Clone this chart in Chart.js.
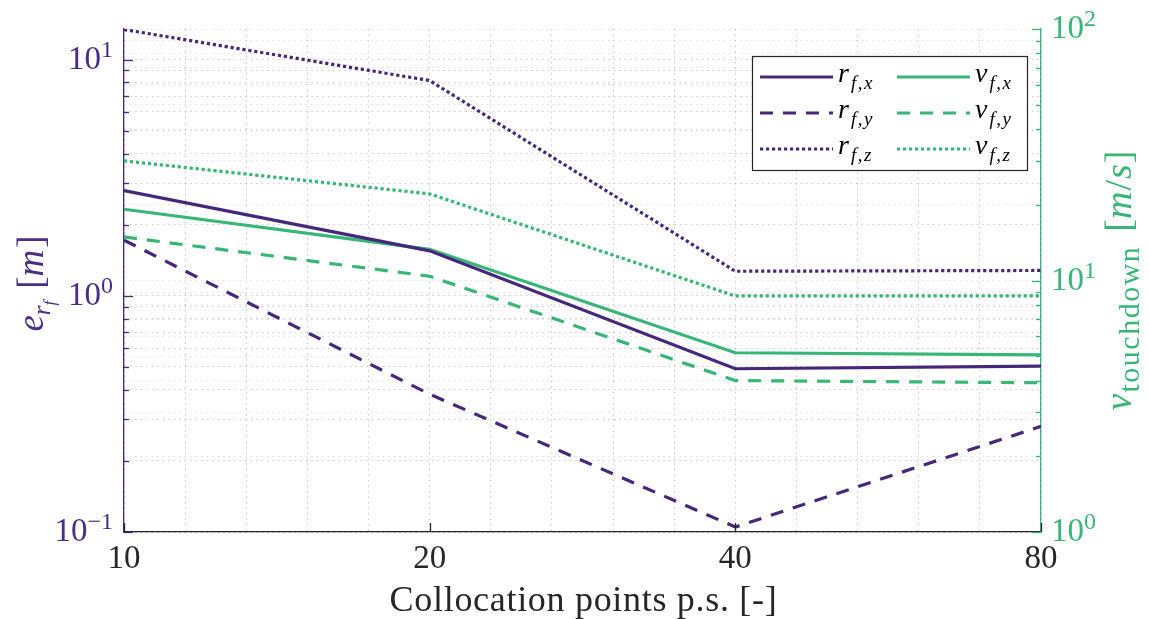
<!DOCTYPE html>
<html>
<head>
<meta charset="utf-8">
<script src="https://cdn.jsdelivr.net/npm/chart.js@4.4.1/dist/chart.umd.min.js"></script>
<style>
  html, body { margin: 0; padding: 0; background: #fff; }
  #wrap { width: 1149px; height: 619px; position: relative; }
</style>
</head>
<body>
<div id="wrap"><canvas id="chart"></canvas></div>
<script>
// collocation points per segment (x axis, log2 spaced)
const xPoints = [10, 20, 40, 80];
const xTickLabels = ['10', '20', '40', '80'];

// final position errors [m] (left axis)
const rFx = [2.79, 1.55, 0.491, 0.504];
const rFy = [1.72, 0.383, 0.105, 0.280];
const rFz = [13.4, 8.15, 1.27, 1.28];

// touchdown velocity [m/s] (right axis)
const vFx = [19.2, 13.3, 5.16, 5.06];
const vFy = [14.9, 10.4, 4.0, 3.92];
const vFz = [29.9, 22.1, 8.68, 8.68];

const leftMajor = [0.1, 1, 10];
const leftExp = ['\u22121', '0', '1'];
const rightMajor = [1, 10, 100];
const rightExp = ['0', '1', '2'];

const PURPLE = '#45287a';
const PURPLE_TXT = '#4a2d84';
const GREEN = '#37b677';
const INK = '#262626';
const GRID = 'rgba(150,150,175,0.5)';
const SERIF = "'Liberation Serif', 'DejaVu Serif', serif";

const DASH = [13, 10];
const DOT = [3.2, 2.8];

function decadeTicks(min, max) {
  const out = [];
  for (let e = Math.floor(Math.log10(min)); e <= Math.ceil(Math.log10(max)); e++) {
    for (let m = 1; m <= 9; m++) {
      const v = +(m * Math.pow(10, e)).toPrecision(6);
      if (v >= min * 0.999 && v <= max * 1.001) out.push(v);
    }
  }
  return out;
}

function series(vals) {
  return xPoints.map((x, i) => ({ x: x, y: vals[i] }));
}

function applyRun(ctx, r) {
  ctx.font = r.font;
  ctx.letterSpacing = (r.ls || 0) + 'px';
}

function runsWidth(ctx, runs) {
  let w = 0;
  runs.forEach(r => { applyRun(ctx, r); w += ctx.measureText(r.text).width + (r.gap || 0); });
  return w;
}

function drawRuns(ctx, runs, x, y, align) {
  const w = runsWidth(ctx, runs);
  let cx = align === 'center' ? x - w / 2 : align === 'right' ? x - w : x;
  ctx.textAlign = 'left';
  ctx.textBaseline = 'alphabetic';
  runs.forEach(r => {
    applyRun(ctx, r);
    ctx.fillText(r.text, cx, y + (r.dy || 0));
    cx += ctx.measureText(r.text).width + (r.gap || 0);
  });
  ctx.letterSpacing = '0px';
}

const it = (px) => `italic ${px}px ${SERIF}`;
const rm = (px) => `${px}px ${SERIF}`;

const datasets = [
  { label: 'r_f,x', sym: 'r', sub: 'f,x', data: series(rFx), yAxisID: 'y', borderColor: PURPLE, borderDash: [] },
  { label: 'r_f,y', sym: 'r', sub: 'f,y', data: series(rFy), yAxisID: 'y', borderColor: PURPLE, borderDash: DASH },
  { label: 'r_f,z', sym: 'r', sub: 'f,z', data: series(rFz), yAxisID: 'y', borderColor: PURPLE, borderDash: DOT },
  { label: 'v_f,x', sym: 'v', sub: 'f,x', data: series(vFx), yAxisID: 'y2', borderColor: GREEN, borderDash: [] },
  { label: 'v_f,y', sym: 'v', sub: 'f,y', data: series(vFy), yAxisID: 'y2', borderColor: GREEN, borderDash: DASH },
  { label: 'v_f,z', sym: 'v', sub: 'f,z', data: series(vFz), yAxisID: 'y2', borderColor: GREEN, borderDash: DOT }
].map(d => Object.assign(d, { borderWidth: 3.2, pointRadius: 0, tension: 0, fill: false, borderCapStyle: 'butt' }));

const decorPlugin = {
  id: 'decor',
  afterDatasetsDraw(chart) {
    const ctx = chart.ctx;
    const a = chart.chartArea;
    const sx = chart.scales.x, sy = chart.scales.y, sy2 = chart.scales.y2;
    ctx.save();

    // inward ticks, left axis
    ctx.lineWidth = 1.3;
    ctx.strokeStyle = PURPLE;
    decadeTicks(0.1, 13.47).forEach(v => {
      const y = Math.round(sy.getPixelForValue(v)) + 0.5;
      const len = leftMajor.includes(v) ? 9 : 5;
      ctx.beginPath(); ctx.moveTo(a.left, y); ctx.lineTo(a.left + len, y); ctx.stroke();
    });
    // inward ticks, right axis
    ctx.strokeStyle = GREEN;
    decadeTicks(1, 100).forEach(v => {
      const y = Math.round(sy2.getPixelForValue(v)) + 0.5;
      const len = rightMajor.includes(v) ? 9 : 5;
      ctx.beginPath(); ctx.moveTo(a.right, y); ctx.lineTo(a.right - len, y); ctx.stroke();
    });
    // x ticks
    ctx.strokeStyle = INK;
    xPoints.forEach(v => {
      const x = Math.round(sx.getPixelForValue(v)) + 0.5;
      ctx.beginPath(); ctx.moveTo(x, a.bottom); ctx.lineTo(x, a.bottom - 9); ctx.stroke();
    });

    // tick labels
    ctx.fillStyle = PURPLE_TXT;
    leftMajor.forEach((v, i) => {
      const y = sy.getPixelForValue(v);
      drawRuns(ctx, [
        { text: '10', font: rm(33) },
        { text: leftExp[i], font: rm(24), dy: -12 }
      ], 113, y + 9, 'right');
    });
    ctx.fillStyle = GREEN;
    rightMajor.forEach((v, i) => {
      const y = sy2.getPixelForValue(v);
      drawRuns(ctx, [
        { text: '10', font: rm(33) },
        { text: rightExp[i], font: rm(24), dy: -12 }
      ], 1051, y + 9, 'left');
    });
    ctx.fillStyle = INK;
    xPoints.forEach((v, i) => {
      drawRuns(ctx, [{ text: xTickLabels[i], font: rm(33) }], sx.getPixelForValue(v), 568, 'center');
    });

    // axis titles
    drawRuns(ctx, [{ text: 'Collocation points p.s. [-]', font: rm(36), ls: 0.7 }], (a.left + a.right) / 2 + 1, 611, 'center');

    ctx.save();
    ctx.translate(43, (a.top + a.bottom) / 2 + 3);
    ctx.rotate(-Math.PI / 2);
    ctx.fillStyle = PURPLE_TXT;
    drawRuns(ctx, [
      { text: 'e', font: it(37) },
      { text: 'r', font: it(25), dy: 7 },
      { text: 'f', font: it(17), dy: 12, gap: 12 },
      { text: '[', font: rm(37) },
      { text: 'm', font: it(37), gap: 2 },
      { text: ']', font: rm(37) }
    ], 0, 0, 'center');
    ctx.restore();

    ctx.save();
    ctx.translate(1131, (a.top + a.bottom) / 2);
    ctx.rotate(-Math.PI / 2);
    ctx.fillStyle = GREEN;
    drawRuns(ctx, [
      { text: 'v', font: it(38), gap: 1 },
      { text: 'touchdown', font: rm(30), ls: 1.5, dy: 8, gap: 14 },
      { text: '[', font: rm(38) },
      { text: 'm', font: it(38), gap: 1 },
      { text: '/', font: rm(38), gap: 1 },
      { text: 's', font: it(38), gap: 1 },
      { text: ']', font: rm(38) }
    ], 0, 0, 'center');
    ctx.restore();

    // legend box
    const bx = 752, by = 56, bw = 275, bh = 114;
    ctx.fillStyle = '#fff';
    ctx.fillRect(bx, by, bw, bh);
    ctx.strokeStyle = INK;
    ctx.lineWidth = 1.2;
    ctx.strokeRect(bx + 0.5, by + 0.5, bw, bh);
    const rowsY = [77, 113, 149];
    const colX = [760, 897];
    chart.data.datasets.forEach((ds, i) => {
      const col = i < 3 ? 0 : 1;
      const row = i % 3;
      const x0 = colX[col], y = rowsY[row];
      ctx.save();
      ctx.strokeStyle = ds.borderColor;
      ctx.lineWidth = 3.2;
      ctx.setLineDash(ds.borderDash);
      ctx.beginPath(); ctx.moveTo(x0, y); ctx.lineTo(x0 + 73, y); ctx.stroke();
      ctx.restore();
      ctx.fillStyle = '#000';
      drawRuns(ctx, [
        { text: ds.sym, font: it(28), gap: 2 },
        { text: ds.sub, font: it(19), ls: 1.5, dy: 7 }
      ], x0 + 78, y + 5, 'left');
    });

    ctx.restore();
  }
};

const ctx = document.getElementById('chart').getContext('2d');
new Chart(ctx, {
  type: 'line',
  data: { datasets: datasets },
  options: {
    responsive: true,
    maintainAspectRatio: false,
    animation: false,
    layout: { padding: { left: 124, top: 29, right: 108, bottom: 87 } },
    plugins: { legend: { display: false }, tooltip: { enabled: false } },
    scales: {
      x: {
        type: 'logarithmic',
        min: 10, max: 80,
        position: 'bottom',
        afterBuildTicks: s => { s.ticks = Array.from({ length: 16 }, (_, k) => ({ value: 10 * Math.pow(2, k / 5) })); },
        ticks: { display: false },
        grid: { color: GRID, lineWidth: 1, drawTicks: false },
        border: { color: INK, width: 1.3, dash: [1.5, 4] }
      },
      y: {
        type: 'logarithmic',
        min: 0.1, max: 13.47,
        position: 'left',
        afterBuildTicks: s => { s.ticks = decadeTicks(0.1, 13.47).map(v => ({ value: v })); },
        ticks: { display: false },
        grid: { color: GRID, lineWidth: 1, drawTicks: false },
        border: { color: PURPLE, width: 1.3, dash: [1.5, 4] }
      },
      y2: {
        type: 'logarithmic',
        min: 1, max: 100,
        position: 'right',
        afterBuildTicks: s => { s.ticks = decadeTicks(1, 100).map(v => ({ value: v })); },
        ticks: { display: false },
        grid: { color: 'rgba(150,150,175,0.3)', lineWidth: 1, drawTicks: false },
        border: { color: GREEN, width: 1.3, dash: [1.5, 4] }
      }
    }
  },
  plugins: [decorPlugin]
});
</script>
</body>
</html>
